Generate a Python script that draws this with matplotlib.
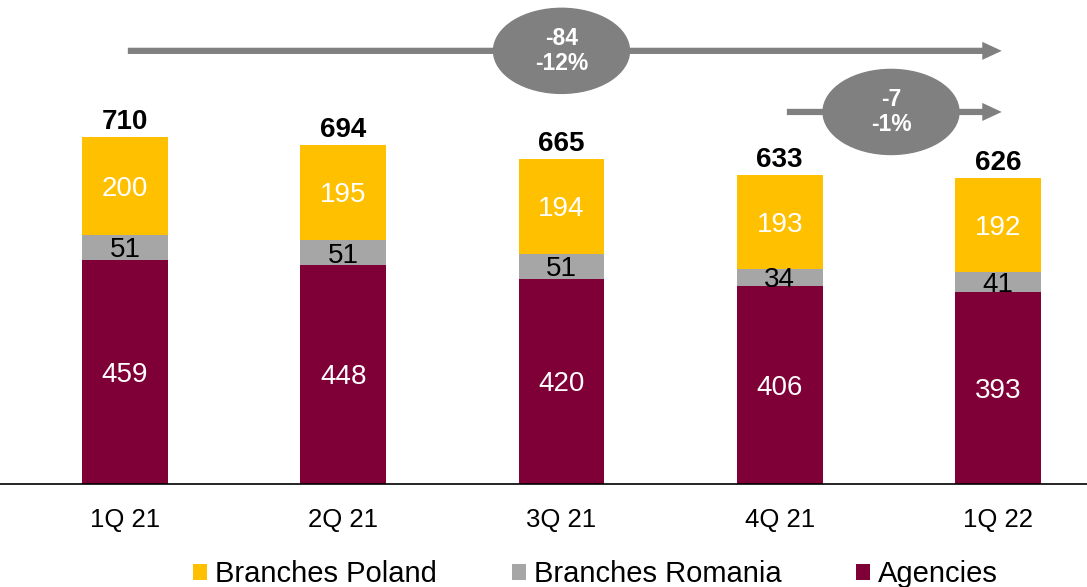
import matplotlib
matplotlib.use("Agg")
import matplotlib.pyplot as plt
from matplotlib.patches import Ellipse, FancyArrowPatch

plt.rcParams['font.family'] = ['Liberation Sans', 'DejaVu Sans']

quarters = ["1Q 21", "2Q 21", "3Q 21", "4Q 21", "1Q 22"]
agencies = [459, 448, 420, 406, 393]
branches_romania = [51, 51, 51, 34, 41]
branches_poland = [200, 195, 194, 193, 192]
totals = [710, 694, 665, 633, 626]

c_poland = "#FFC000"
c_romania = "#A6A6A6"
c_agencies = "#7F0037"
c_bubble = "#808080"

fig = plt.figure(figsize=(10.87, 5.87), dpi=100)
ax = fig.add_axes([0.0, 0.1755, 1.0, 0.8245])

x = list(range(len(quarters)))
w = 0.394
bottom_ro = agencies
bottom_pl = [a + r for a, r in zip(agencies, branches_romania)]

ax.bar(x, agencies, w, color=c_agencies, label="Agencies", zorder=2)
ax.bar(x, branches_romania, w, bottom=bottom_ro, color=c_romania,
       label="Branches Romania", zorder=2)
ax.bar(x, branches_poland, w, bottom=bottom_pl, color=c_poland,
       label="Branches Poland", zorder=2)

fs = 20
for i in x:
    ax.text(i, agencies[i] / 2, str(agencies[i]), ha="center",
            va="center_baseline", color="white", fontsize=fs)
    ax.text(i, bottom_ro[i] + branches_romania[i] / 2, str(branches_romania[i]),
            ha="center", va="center_baseline", color="black", fontsize=fs)
    ax.text(i, bottom_pl[i] + branches_poland[i] / 2, str(branches_poland[i]),
            ha="center", va="center_baseline", color="white", fontsize=fs)
    ax.text(i, totals[i] + 4, str(totals[i]), ha="center", va="bottom",
            color="black", fontsize=fs, fontweight="bold")

ax.set_xlim(-0.573, 4.408)
ax.set_ylim(0, 990)
ax.set_xticks(x)
ax.set_xticklabels(quarters, fontsize=18.5)
ax.tick_params(axis="x", length=0, pad=17)
ax.set_yticks([])
for s in ["top", "right", "left"]:
    ax.spines[s].set_visible(False)
ax.spines["bottom"].set_linewidth(1.2)
ax.patch.set_visible(False)


def change_arrow(x0, x1, y, xc, first, last):
    arr = FancyArrowPatch((x0, y), (x1, y),
                          arrowstyle="simple,head_width=1.3,head_length=1.4,tail_width=0.45",
                          mutation_scale=10, color=c_bubble, lw=0, zorder=3)
    ax.add_patch(arr)
    ax.add_patch(Ellipse((xc, y), 0.623, 174, color=c_bubble, zorder=4))
    diff = last - first
    pct = round(diff / first * 100)
    ax.text(xc, y, f"{diff}\n{pct}%", ha="center", va="center", color="white",
            fontsize=16.5, fontweight="bold", linespacing=1.1, zorder=5)


change_arrow(0.0, 4.03, 886, 2.0, totals[0], totals[-1])
change_arrow(3.02, 4.03, 761, 3.51, totals[3], totals[-1])

handles, labels = ax.get_legend_handles_labels()
order = [2, 1, 0]
fig.legend([handles[k] for k in order], [labels[k] for k in order],
           loc="center", bbox_to_anchor=(0.548, 0.022), ncol=3, frameon=False,
           fontsize=21, handlelength=0.48, handleheight=0.48, handletextpad=0.27,
           columnspacing=2.57, borderaxespad=0, borderpad=0)

fig.savefig("out.png", dpi=100)
